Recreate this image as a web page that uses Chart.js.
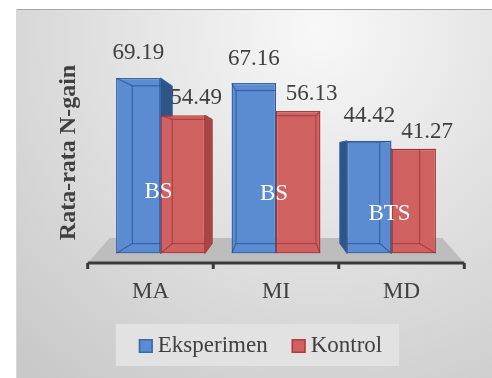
<!DOCTYPE html>
<html>
<head>
<meta charset="utf-8">
<script src="https://cdn.jsdelivr.net/npm/chart.js@4.4.1/dist/chart.umd.min.js"></script>
<style>
  html, body { margin: 0; padding: 0; background: #ffffff; }
  canvas { display: block; }
</style>
</head>
<body>
<canvas id="chart" width="492" height="378"></canvas>
<script>
// Mean N-gain per indicator
const categories = ['MA', 'MI', 'MD'];
const eksperimen = [69.19, 67.16, 44.42];
const kontrol = [54.49, 56.13, 41.27];
const seriesNames = ['Eksperimen', 'Kontrol'];
const statusLabels = ['BS', 'BS', 'BTS'];
const axisTitle = 'Rata-rata N-gain';

const SERIF = '"Liberation Serif", "Times New Roman", serif';
const TEXT = '#404040';
const styles = [
  { face: '#5b8bd1', edge: '#3b68a8', side: '#2f5488', inner: 'rgba(30,65,130,0.55)', labelDx: 0, labelDy: -24.5 },
  { face: '#d06161', edge: '#b03d3d', side: '#a84646', inner: 'rgba(140,35,35,0.5)', labelDx: 13.5, labelDy: -17 }
];

// simple one-point perspective for the 3D columns
const DEPTH = 0.898;   // back face scale toward the vanishing point
const FLOOR_K = 0.92;  // floor front edge lies in front of the columns
function vanish(chart) {
  const a = chart.chartArea;
  return { x: (a.left + a.right) / 2, y: a.top + (a.bottom - a.top) * 0.52 };
}
function project(vp, k, x, y) { return [vp.x + (x - vp.x) * k, vp.y + (y - vp.y) * k]; }
function boxOf(el, vp) {
  const L = el.x - el.width / 2, R = el.x + el.width / 2, T = el.y, B = el.base;
  const [bl, bt] = project(vp, DEPTH, L, T);
  const [br, bb] = project(vp, DEPTH, R, B);
  return { L, R, T, B, bl, br, bt, bb };
}
function poly(ctx, pts) {
  ctx.beginPath();
  ctx.moveTo(pts[0][0], pts[0][1]);
  for (let i = 1; i < pts.length; i++) ctx.lineTo(pts[i][0], pts[i][1]);
  ctx.closePath();
}

const backdrop = {
  id: 'backdrop',
  beforeDraw(chart) {
    const ctx = chart.ctx;
    ctx.save();
    ctx.fillStyle = '#ffffff';
    ctx.fillRect(0, 0, chart.width, chart.height);
    const g = ctx.createRadialGradient(320, 30, 0, 320, 30, 440);
    g.addColorStop(0, '#f8f8f8');
    g.addColorStop(1, '#c9c9c9');
    ctx.fillStyle = g;
    ctx.fillRect(16, 9, chart.width - 16, chart.height - 9);
    ctx.strokeStyle = '#a8a8a8';
    ctx.lineWidth = 1;
    ctx.beginPath(); ctx.moveTo(16, 9.5); ctx.lineTo(chart.width, 9.5); ctx.stroke();
    ctx.strokeStyle = '#d8d8d8';
    ctx.beginPath(); ctx.moveTo(16.5, 9); ctx.lineTo(16.5, chart.height); ctx.stroke();
    ctx.restore();
  }
};

const columns3d = {
  id: 'columns3d',
  beforeDatasetsDraw(chart) {
    const ctx = chart.ctx, a = chart.chartArea, vp = vanish(chart);
    // floor
    const fy = a.bottom + 9.5, by = a.bottom - 15.5;
    const fl = vp.x + (a.left - vp.x) / FLOOR_K, fr = vp.x + (a.right - vp.x) / FLOOR_K;
    const bl = vp.x + (a.left - vp.x) * 0.96, br = vp.x + (a.right - vp.x) * 0.96;
    ctx.save();
    ctx.fillStyle = '#bdbdbd';
    poly(ctx, [[fl, fy], [fr, fy], [br, by], [bl, by]]);
    ctx.fill();
    // category axis with tick marks at the category boundaries
    ctx.strokeStyle = '#3a3a3a';
    ctx.lineWidth = 3;
    ctx.beginPath(); ctx.moveTo(fl, fy); ctx.lineTo(fr, fy); ctx.stroke();
    const n = categories.length;
    for (let i = 0; i <= n; i++) {
      const cx = a.left + i * (a.right - a.left) / n;
      const tx = vp.x + (cx - vp.x) / FLOOR_K;
      ctx.beginPath(); ctx.moveTo(tx, fy); ctx.lineTo(tx, fy + 6); ctx.stroke();
    }
    // side and top faces of every column
    chart.data.datasets.forEach((ds, di) => {
      const st = styles[di];
      chart.getDatasetMeta(di).data.forEach(el => {
        const b = boxOf(el, vp);
        ctx.fillStyle = st.side;
        ctx.strokeStyle = st.edge;
        ctx.lineWidth = 1;
        if (b.br > b.R) {
          poly(ctx, [[b.R, b.T], [b.br, b.bt], [b.br, b.bb], [b.R, b.B]]);
          ctx.fill(); ctx.stroke();
        }
        if (b.bl < b.L) {
          poly(ctx, [[b.L, b.T], [b.bl, b.bt], [b.bl, b.bb], [b.L, b.B]]);
          ctx.fill(); ctx.stroke();
        }
        if (b.bt < b.T) {
          poly(ctx, [[b.L, b.T], [b.R, b.T], [b.br, b.bt], [b.bl, b.bt]]);
          ctx.fill(); ctx.stroke();
        }
      });
    });
    ctx.restore();
  },
  afterDatasetsDraw(chart) {
    const ctx = chart.ctx, a = chart.chartArea, vp = vanish(chart);
    const xs = chart.scales.x, ys = chart.scales.y;
    ctx.save();
    // back edges seen through the front faces
    chart.data.datasets.forEach((ds, di) => {
      const st = styles[di];
      chart.getDatasetMeta(di).data.forEach(el => {
        const b = boxOf(el, vp);
        ctx.save();
        ctx.beginPath();
        ctx.rect(b.L, b.T, b.R - b.L, b.B - b.T);
        ctx.clip();
        ctx.strokeStyle = st.inner;
        ctx.lineWidth = 1.2;
        ctx.strokeRect(b.bl, b.bt, b.br - b.bl, b.bb - b.bt);
        ctx.beginPath();
        ctx.moveTo(b.L, b.T); ctx.lineTo(b.bl, b.bt);
        ctx.moveTo(b.R, b.T); ctx.lineTo(b.br, b.bt);
        ctx.moveTo(b.L, b.B); ctx.lineTo(b.bl, b.bb);
        ctx.moveTo(b.R, b.B); ctx.lineTo(b.br, b.bb);
        ctx.stroke();
        ctx.restore();
      });
    });
    // value labels
    ctx.font = '23px ' + SERIF;
    ctx.fillStyle = TEXT;
    ctx.textAlign = 'center';
    ctx.textBaseline = 'middle';
    chart.data.datasets.forEach((ds, di) => {
      const st = styles[di];
      chart.getDatasetMeta(di).data.forEach((el, i) => {
        ctx.fillText(ds.data[i].toFixed(2), el.x + st.labelDx, el.y + st.labelDy);
      });
    });
    // status labels inside each pair of columns
    ctx.fillStyle = '#ffffff';
    const blue = chart.getDatasetMeta(0).data;
    statusLabels.forEach((s, i) => {
      const el = blue[i];
      ctx.fillText(s, el.x + el.width / 2 - 2, ys.getPixelForValue(eksperimen[i] * 0.35));
    });
    // category labels, projected onto the front of the floor
    ctx.fillStyle = TEXT;
    categories.forEach((c, i) => {
      const x = vp.x + (xs.getPixelForValue(i) - vp.x) / FLOOR_K;
      ctx.fillText(c, x, a.bottom + 38.5);
    });
    // axis title
    ctx.save();
    ctx.translate(69, (a.top + a.bottom) / 2 + 0.5);
    ctx.rotate(-Math.PI / 2);
    ctx.font = 'bold 24px ' + SERIF;
    ctx.fillText(axisTitle, 0, 0);
    ctx.restore();
    // legend
    ctx.font = '23px ' + SERIF;
    ctx.textAlign = 'left';
    const sq = 14, gap = 5, itemGap = 24;
    const widths = seriesNames.map(t => ctx.measureText(t).width);
    const total = widths.reduce((s, w) => s + sq + gap + w, 0) + itemGap * (seriesNames.length - 1);
    let x = 260.5 - total / 2;
    const midY = a.bottom + 92.5;
    ctx.fillStyle = '#e2e2e2';
    ctx.fillRect(x - 23, midY - 22, total + 40, 42);
    seriesNames.forEach((t, i) => {
      const st = styles[i];
      ctx.fillStyle = st.face;
      ctx.fillRect(x, midY - 7, sq, sq);
      ctx.strokeStyle = st.edge;
      ctx.lineWidth = 1.5;
      ctx.strokeRect(x + 0.75, midY - 6.25, sq - 1.5, sq - 1.5);
      ctx.fillStyle = TEXT;
      ctx.fillText(t, x + sq + gap, midY);
      x += sq + gap + widths[i] + itemGap;
    });
    ctx.restore();
  }
};

new Chart(document.getElementById('chart'), {
  type: 'bar',
  data: {
    labels: categories,
    datasets: [
      { label: seriesNames[0], data: eksperimen, backgroundColor: styles[0].face, borderColor: styles[0].edge,
        borderWidth: 1.5, borderSkipped: false },
      { label: seriesNames[1], data: kontrol, backgroundColor: styles[1].face, borderColor: styles[1].edge,
        borderWidth: 1.5, borderSkipped: false }
    ]
  },
  options: {
    responsive: false,
    devicePixelRatio: 1,
    animation: false,
    events: [],
    layout: { padding: { left: 102.75, right: 42.75, top: 50.5, bottom: 124.5 } },
    categoryPercentage: 0.77,
    barPercentage: 1,
    scales: {
      x: { display: false },
      y: { display: false, min: 0, max: 80 }
    },
    plugins: { legend: { display: false }, tooltip: { enabled: false } }
  },
  plugins: [backdrop, columns3d]
});
</script>
</body>
</html>
